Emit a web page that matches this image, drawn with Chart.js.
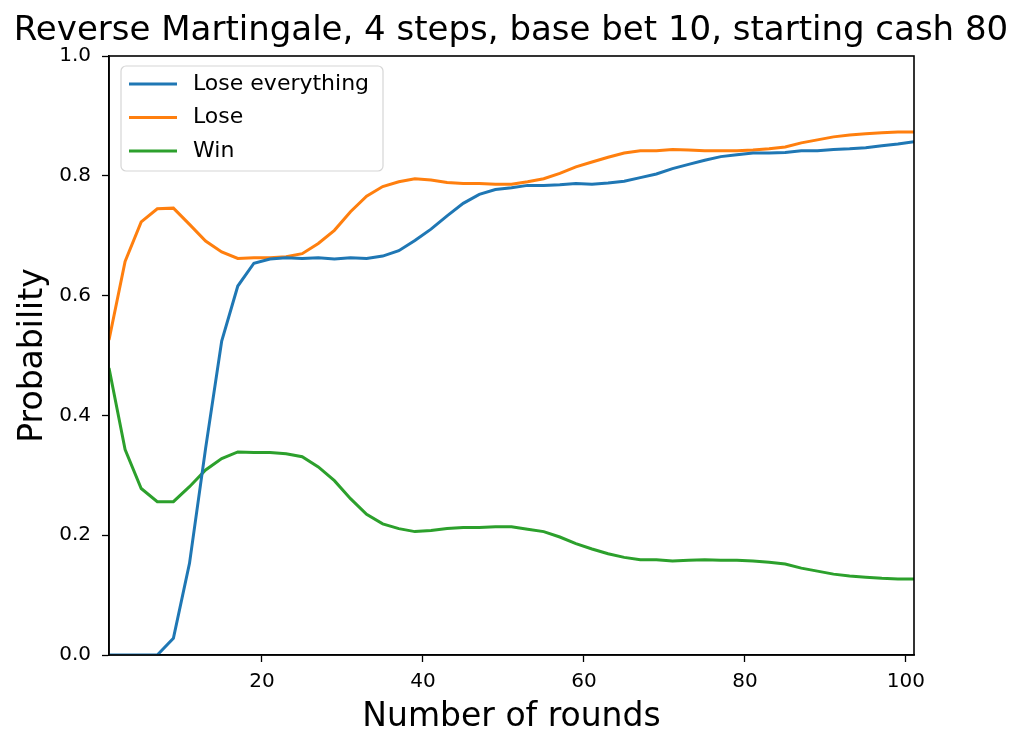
<!DOCTYPE html>
<html>
<head>
<meta charset="utf-8">
<title>Reverse Martingale</title>
<script src="https://cdn.jsdelivr.net/npm/chart.js@4.4.1/dist/chart.umd.min.js"></script>
<style>
  html, body { margin: 0; padding: 0; background: #fff; }
  #wrap { width: 1024px; height: 751px; }
</style>
</head>
<body>
<div id="wrap"><canvas id="chart" width="1024" height="751"></canvas></div>
<script>
// rounds 1, 3, 5, ... 101
const rounds = [1, 3, 5, 7, 9, 11, 13, 15, 17, 19, 21, 23, 25, 27, 29, 31, 33, 35, 37, 39,
    41, 43, 45, 47, 49, 51, 53, 55, 57, 59, 61, 63, 65, 67, 69, 71, 73, 75, 77, 79,
    81, 83, 85, 87, 89, 91, 93, 95, 97, 99, 101];

const loseEverything = [0, 0, 0, 0, 0.028, 0.153, 0.345, 0.524, 0.616, 0.654,
    0.661, 0.663, 0.662, 0.663, 0.661, 0.663, 0.662, 0.666, 0.675, 0.692,
    0.711, 0.733, 0.754, 0.769, 0.777, 0.780, 0.784, 0.784, 0.785, 0.787,
    0.786, 0.788, 0.791, 0.797, 0.803, 0.812, 0.819, 0.826, 0.832, 0.835,
    0.838, 0.838, 0.839, 0.842, 0.842, 0.844, 0.845, 0.847, 0.850, 0.853, 0.857];

const lose = [0.526, 0.657, 0.723, 0.745, 0.746, 0.719, 0.691, 0.673, 0.662, 0.663,
    0.663, 0.665, 0.670, 0.687, 0.709, 0.740, 0.766, 0.782, 0.790, 0.795,
    0.793, 0.789, 0.787, 0.787, 0.786, 0.786, 0.790, 0.795, 0.804, 0.815,
    0.823, 0.831, 0.838, 0.842, 0.842, 0.844, 0.843, 0.842, 0.842, 0.842,
    0.843, 0.845, 0.848, 0.855, 0.860, 0.865, 0.868, 0.870, 0.872, 0.873, 0.873];

const win = [0.479, 0.343, 0.278, 0.256, 0.256, 0.281, 0.309, 0.328, 0.339, 0.338,
    0.338, 0.336, 0.331, 0.314, 0.291, 0.261, 0.235, 0.219, 0.211, 0.206,
    0.208, 0.211, 0.213, 0.213, 0.214, 0.214, 0.210, 0.206, 0.197, 0.186,
    0.177, 0.169, 0.163, 0.159, 0.159, 0.157, 0.158, 0.159, 0.158, 0.158,
    0.157, 0.155, 0.152, 0.145, 0.140, 0.135, 0.132, 0.130, 0.128, 0.127, 0.127];

const xTicks = [20, 40, 60, 80, 100];
const yTicks = [0, 0.2, 0.4, 0.6, 0.8, 1.0];

const seriesNames = ['Lose everything', 'Lose', 'Win'];
const seriesColors = ['#1f77b4', '#ff7f0e', '#2ca02c'];

const chartTitle = 'Reverse Martingale, 4 steps, base bet 10, starting cash 80';

const FONT = "'DejaVu Sans', sans-serif";

const toPoints = vals => rounds.map((r, i) => ({ x: r, y: vals[i] }));

// title centred on the figure, frame round the axes, legend inside the axes
const framePlugin = {
    id: 'frame',
    afterDraw(chart) {
        const { ctx, chartArea: a } = chart;
        ctx.save();

        ctx.fillStyle = '#000';
        ctx.font = '34px ' + FONT;
        ctx.textAlign = 'center';
        ctx.textBaseline = 'alphabetic';
        ctx.fillText(chartTitle, chart.width / 2 - 1, 40);

        ctx.strokeStyle = '#000';
        ctx.lineWidth = 1.6;
        ctx.strokeRect(a.left, a.top, a.right - a.left, a.bottom - a.top);

        // legend box
        const bx = a.left + 12, by = a.top + 10, bw = 262, bh = 105;
        const r = 5;
        ctx.beginPath();
        ctx.moveTo(bx + r, by);
        ctx.arcTo(bx + bw, by, bx + bw, by + bh, r);
        ctx.arcTo(bx + bw, by + bh, bx, by + bh, r);
        ctx.arcTo(bx, by + bh, bx, by, r);
        ctx.arcTo(bx, by, bx + bw, by, r);
        ctx.closePath();
        ctx.fillStyle = 'rgba(255,255,255,0.8)';
        ctx.fill();
        ctx.strokeStyle = '#d6d6d6';
        ctx.lineWidth = 1.2;
        ctx.stroke();

        ctx.font = '22px ' + FONT;
        ctx.textAlign = 'left';
        ctx.textBaseline = 'middle';
        ctx.fillStyle = '#000';
        chart.data.datasets.forEach((ds, i) => {
            const y = by + 18 + i * 33.5;
            ctx.strokeStyle = ds.borderColor;
            ctx.lineWidth = 3;
            ctx.beginPath();
            ctx.moveTo(bx + 8, y);
            ctx.lineTo(bx + 56, y);
            ctx.stroke();
            ctx.fillText(ds.label, bx + 72, y);
        });
        ctx.restore();
    }
};

const ctx = document.getElementById('chart').getContext('2d');
new Chart(ctx, {
    type: 'line',
    data: {
        datasets: [loseEverything, lose, win].map((vals, i) => ({
            label: seriesNames[i],
            data: toPoints(vals),
            borderColor: seriesColors[i],
            backgroundColor: seriesColors[i],
            borderWidth: 3,
            pointRadius: 0,
            tension: 0,
            fill: false
        }))
    },
    options: {
        responsive: false,
        animation: false,
        layout: { padding: { left: 0, right: 110, top: 56, bottom: 0 } },
        plugins: {
            legend: { display: false },
            tooltip: { enabled: false },
            title: { display: false }
        },
        scales: {
            x: {
                type: 'linear',
                min: 1,
                max: 101,
                afterBuildTicks: s => { s.ticks = xTicks.map(v => ({ value: v })); },
                afterFit: s => { s.height = 96; },
                grid: { drawOnChartArea: false, drawTicks: true, tickLength: 7, tickWidth: 1.3, color: '#000' },
                border: { display: true, color: '#000', width: 1.6 },
                ticks: { color: '#000', font: { family: FONT, size: 20 }, padding: 8, maxRotation: 0 },
                title: {
                    display: true,
                    text: 'Number of rounds',
                    color: '#000',
                    font: { family: FONT, size: 33 },
                    padding: { top: 4, bottom: 14 }
                }
            },
            y: {
                min: 0,
                max: 1,
                afterBuildTicks: s => { s.ticks = yTicks.map(v => ({ value: v })); },
                afterFit: s => { s.width = 109; },
                grid: { drawOnChartArea: false, drawTicks: true, tickLength: 7, tickWidth: 1.3, color: '#000' },
                border: { display: true, color: '#000', width: 1.6 },
                ticks: { color: '#000', font: { family: FONT, size: 20 }, padding: 11, callback: v => v.toFixed(1) },
                title: {
                    display: true,
                    text: 'Probability',
                    color: '#000',
                    font: { family: FONT, size: 33 },
                    padding: { top: 14, bottom: 4 }
                }
            }
        }
    },
    plugins: [framePlugin]
});
</script>
</body>
</html>
